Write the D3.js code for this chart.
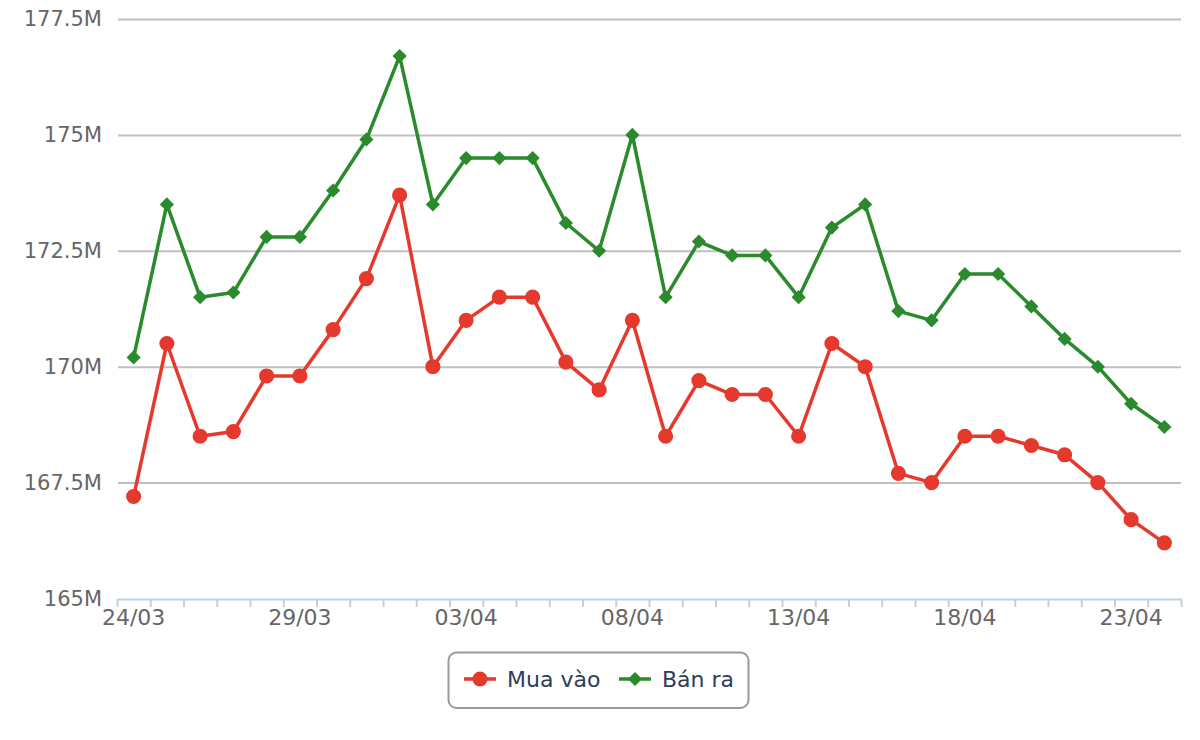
<!DOCTYPE html>
<html>
<head>
<meta charset="utf-8">
<script src="https://cdn.jsdelivr.net/npm/d3@7"></script>
<style>
  body { margin: 0; background: #fff; }
  svg text { font-family: "DejaVu Sans", Verdana, sans-serif; }
</style>
</head>
<body>
<div id="chart"></div>
<script>
// ngày (trục x)
const days = ["24/03", "25/03", "26/03", "27/03", "28/03", "29/03", "30/03", "31/03",
  "01/04", "02/04", "03/04", "04/04", "05/04", "06/04", "07/04", "08/04",
  "09/04", "10/04", "11/04", "12/04", "13/04", "14/04", "15/04", "16/04",
  "17/04", "18/04", "19/04", "20/04", "21/04", "22/04", "23/04", "24/04"];

// giá, triệu đồng
const muaVao = [167.2, 170.5, 168.5, 168.6, 169.8, 169.8, 170.8, 171.9,
  173.7, 170.0, 171.0, 171.5, 171.5, 170.1, 169.5, 171.0,
  168.5, 169.7, 169.4, 169.4, 168.5, 170.5, 170.0, 167.7,
  167.5, 168.5, 168.5, 168.3, 168.1, 167.5, 166.7, 166.2];
const banRa = [170.2, 173.5, 171.5, 171.6, 172.8, 172.8, 173.8, 174.9,
  176.7, 173.5, 174.5, 174.5, 174.5, 173.1, 172.5, 175.0,
  171.5, 172.7, 172.4, 172.4, 171.5, 173.0, 173.5, 171.2,
  171.0, 172.0, 172.0, 171.3, 170.6, 170.0, 169.2, 168.7];

const yTicks = [165, 167.5, 170, 172.5, 175, 177.5];
const labelEvery = 5;

const W = 1200, H = 740;
const mLeft = 117, mRight = 1181, mTop = 19, mBottom = 598.5;

const svg = d3.select("#chart").append("svg")
  .attr("width", W)
  .attr("height", H);

const x = d3.scaleBand()
  .domain(days)
  .range([mLeft, mRight])
  .padding(0);

// vị trí vạch chia giữa các ngày
const xEdge = d3.scaleLinear()
  .domain([0, days.length])
  .range([mLeft, mRight]);

const y = d3.scaleLinear()
  .domain([165, 177.5])
  .range([mBottom, mTop]);

// lưới ngang + nhãn trục y
const yAxis = svg.append("g")
  .attr("transform", "translate(" + mRight + ",0)")
  .call(d3.axisLeft(y)
    .tickValues(yTicks)
    .tickSize(mRight - mLeft - 1)
    .tickPadding(16)
    .tickFormat(d => d + "M"));
yAxis.select(".domain").remove();
yAxis.selectAll(".tick line")
  .attr("stroke", "#c0c0c0")
  .attr("stroke-width", 2);
yAxis.selectAll(".tick").filter(d => d === 165).select("line").remove();
yAxis.selectAll(".tick text")
  .attr("fill", "#666")
  .style("font-size", "21px");

// trục x: đường trục và vạch chia
const xTicks = svg.append("g")
  .attr("transform", "translate(0," + (mBottom + 0.5) + ")")
  .call(d3.axisBottom(xEdge)
    .tickValues(d3.range(days.length + 1))
    .tickSize(8)
    .tickSizeOuter(0)
    .tickFormat(""));
xTicks.select(".domain").attr("stroke", "#c0d0e0").attr("stroke-width", 2);
xTicks.selectAll(".tick line").attr("stroke", "#c0d0e0").attr("stroke-width", 2);

// nhãn ngày
const xLabels = svg.append("g")
  .attr("transform", "translate(0," + (mBottom + 0.5) + ")")
  .call(d3.axisBottom(x)
    .tickValues(days.filter((d, i) => i % labelEvery === 0))
    .tickSize(0)
    .tickPadding(10));
xLabels.select(".domain").remove();
xLabels.selectAll(".tick text")
  .attr("fill", "#666")
  .style("font-size", "22px");

const cx = (d, i) => x(days[i]) + x.bandwidth() / 2;

const series = [
  {name: "Mua vào", values: muaVao, color: "#e6392e", symbol: d3.symbolCircle, size: 180, rot: 0},
  {name: "Bán ra", values: banRa, color: "#2a8a2c", symbol: d3.symbolSquare, size: 100, rot: 45}
];

const line = d3.line()
  .x(cx)
  .y(d => y(d));

series.forEach(s => {
  const g = svg.append("g");
  g.append("path")
    .datum(s.values)
    .attr("d", line)
    .attr("fill", "none")
    .attr("stroke", s.color)
    .attr("stroke-width", 3.5)
    .attr("stroke-linejoin", "round");
  g.selectAll("path.pt")
    .data(s.values)
    .enter()
    .append("path")
    .attr("class", "pt")
    .attr("transform", (d, i) => "translate(" + cx(d, i) + "," + y(d) + ") rotate(" + s.rot + ")")
    .attr("d", d3.symbol().type(s.symbol).size(s.size))
    .attr("fill", s.color);
});

// chú thích
const legend = svg.append("g");
legend.append("rect")
  .attr("x", 448.5)
  .attr("y", 652.5)
  .attr("width", 300)
  .attr("height", 55.5)
  .attr("rx", 8)
  .attr("fill", "#fff")
  .attr("stroke", "#9a9a9a")
  .attr("stroke-width", 2);

const legendX = [464, 619];
series.forEach((s, i) => {
  const item = legend.append("g")
    .attr("transform", "translate(" + legendX[i] + ",679)");
  item.append("line")
    .attr("x1", 0).attr("x2", 32)
    .attr("stroke", s.color)
    .attr("stroke-width", 3.5);
  item.append("path")
    .attr("transform", "translate(16,0) rotate(" + s.rot + ")")
    .attr("d", d3.symbol().type(s.symbol).size(s.size))
    .attr("fill", s.color);
  item.append("text")
    .attr("x", 43)
    .attr("y", 8)
    .attr("fill", "#2c4058")
    .style("font-size", "22px")
    .text(s.name);
});
</script>
</body>
</html>
